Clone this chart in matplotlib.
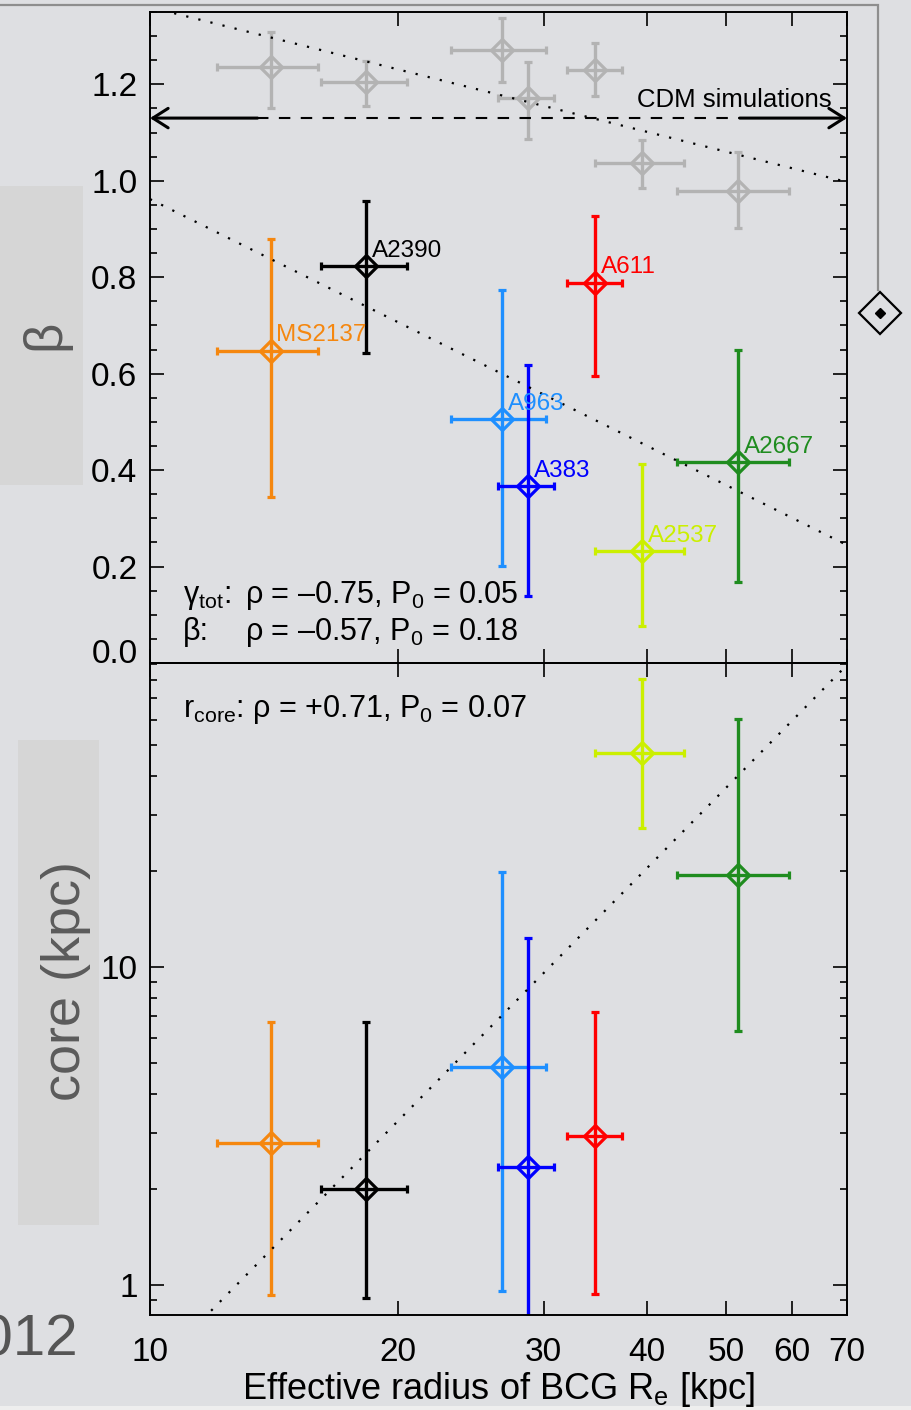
import numpy as np
import matplotlib
matplotlib.use('Agg')
import matplotlib.pyplot as plt
from matplotlib.ticker import FixedLocator, NullLocator, FuncFormatter, LogLocator, MultipleLocator, NullFormatter
from matplotlib.patches import Rectangle

plt.rcParams['font.family'] = ['Liberation Sans', 'DejaVu Sans']
plt.rcParams['mathtext.fontset'] = 'custom'
plt.rcParams['mathtext.rm'] = 'Liberation Sans'
plt.rcParams['mathtext.it'] = 'Liberation Sans:italic'
plt.rcParams['mathtext.bf'] = 'Liberation Sans:bold'

# ---------------- data ----------------
clusters = ['MS2137', 'A2390', 'A963', 'A383', 'A611', 'A2537', 'A2667']
colors = ['#f5870f', '#000000', '#1e8fff', '#0000ff', '#ff0000', '#cbef00', '#1f8c1f']
re_kpc = [14.0, 18.3, 26.7, 28.7, 34.6, 39.5, 51.6]
re_lo = [12.06, 16.1, 23.2, 26.4, 32.0, 34.6, 43.5]
re_hi = [15.98, 20.5, 30.2, 30.9, 37.3, 44.4, 59.5]
gamma_tot = [1.236, 1.205, 1.272, 1.171, 1.230, 1.037, 0.979]
gamma_lo = [1.151, 1.155, 1.205, 1.087, 1.175, 0.985, 0.903]
gamma_hi = [1.309, 1.248, 1.338, 1.246, 1.286, 1.085, 1.060]
beta = [0.648, 0.823, 0.505, 0.367, 0.789, 0.233, 0.416]
beta_lo = [0.344, 0.643, 0.201, 0.139, 0.595, 0.076, 0.167]
beta_hi = [0.880, 0.958, 0.773, 0.619, 0.926, 0.412, 0.649]
rcore = [2.80, 2.00, 4.85, 2.35, 2.94, 47.1, 19.5]
rcore_lo = [0.93, 0.91, 0.96, 0.5, 0.94, 27.4, 6.29]
rcore_hi = [6.71, 6.71, 19.9, 12.3, 7.22, 80.5, 60.4]
gamma_fit = [1.360, -0.429]   # value at R=10, slope per dex
beta_fit = [0.962, -0.849]
rcore_fit = [-0.276, 2.634]   # log10 value at R=10, slope
cdm_beta = 1.13
xticks = [10, 20, 30, 40, 50, 60, 70]
beta_ticks_step = 0.2

# ---------------- figure ----------------
W, H = 911, 1410
BG = '#dedfe2'
fig = plt.figure(figsize=(W / 100, H / 100), dpi=100, facecolor=BG)

# slide decorations (background)
axbg = fig.add_axes([0, 0, 1, 1], zorder=-5)
axbg.set_xlim(0, W)
axbg.set_ylim(H, 0)
axbg.axis('off')
axbg.add_patch(Rectangle((0, 186), 83, 299, fc='#d6d6d6', ec='none'))
axbg.add_patch(Rectangle((18, 740), 81, 485, fc='#d6d6d6', ec='none'))
axbg.add_patch(Rectangle((0, 1406), W, 4, fc='#eeeeee', ec='none'))
axbg.text(45, 335, 'β', rotation=90, fontsize=38, color='#5b5b5b', ha='center', va='center')
axbg.text(66, 981, 'core (kpc)', rotation=90, fontsize=39, color='#5b5b5b', ha='center', va='center')
axbg.text(78, 1355, '2012', ha='right', va='baseline', fontsize=42, color='#555555')
axbg.plot([0, 878, 878], [5, 5, 290], color='#8e8e8e', lw=1.6, solid_joinstyle='miter', clip_on=False)
axbg.plot([880], [313], marker='D', ms=21.5, mfc='none', mec='k', mew=1.6)
axbg.plot([880], [313], marker='D', ms=5, color='k')

ax1 = fig.add_axes([150 / W, 1 - 663 / H, 697 / W, 651 / H])
ax2 = fig.add_axes([150 / W, 1 - 1315 / H, 697 / W, 652 / H])

for ax in (ax1, ax2):
    ax.set_facecolor('none')
    ax.set_xscale('log')
    ax.set_xlim(10, 70)
    ax.xaxis.set_major_locator(FixedLocator(xticks))
    ax.xaxis.set_minor_locator(NullLocator())
    ax.tick_params(which='both', direction='in', top=True, right=True, width=1.2, labelsize=24)
    ax.tick_params(which='major', length=10)
    ax.tick_params(which='minor', length=5)
    ax.tick_params(axis='y', pad=9)
    ax.tick_params(axis='x', pad=16)
    for s in ax.spines.values():
        s.set_linewidth(1.4)

ekw = dict(fmt='D', ms=11, mfc='none', mew=2.3, elinewidth=2.4, capsize=2.9, capthick=2.5)

# upper panel
for i in range(len(clusters)):
    x = re_kpc[i]
    xe = [[x - re_lo[i]], [re_hi[i] - x]]
    ax1.errorbar([x], [gamma_tot[i]], xerr=xe,
                 yerr=[[gamma_tot[i] - gamma_lo[i]], [gamma_hi[i] - gamma_tot[i]]],
                 mec='#b3b3b3', ecolor='#b3b3b3', **ekw)
for i in range(len(clusters)):
    x = re_kpc[i]
    xe = [[x - re_lo[i]], [re_hi[i] - x]]
    c = colors[i]
    ax1.errorbar([x], [beta[i]], xerr=xe,
                 yerr=[[beta[i] - beta_lo[i]], [beta_hi[i] - beta[i]]],
                 mec=c, ecolor=c, **ekw)
    ax1.annotate(clusters[i], (x, beta[i]), xytext=(4.3, 6.5), textcoords='offset points',
                 color=c, fontsize=17.5, ha='left', va='baseline')

xs = np.logspace(1, np.log10(70), 300)
dot = (0, (1, 4.6))
ax1.plot(xs, gamma_fit[0] + gamma_fit[1] * np.log10(xs / 10), ls=dot, color='k', lw=1.6)
ax1.plot(xs, beta_fit[0] + beta_fit[1] * np.log10(xs / 10), ls=dot, color='k', lw=1.6)

# CDM simulations marker
ax1.plot([13.5, 51.9], [cdm_beta, cdm_beta], ls=(0, (5.5, 5)), lw=1.5, color='k')
aprops = dict(arrowstyle='->,head_length=0.55,head_width=0.35', lw=2.2, color='k',
              mutation_scale=20, shrinkA=0, shrinkB=0)
ax1.annotate('', xy=(10, cdm_beta), xytext=(13.5, cdm_beta), arrowprops=aprops, annotation_clip=False)
ax1.annotate('', xy=(70, cdm_beta), xytext=(51.9, cdm_beta), arrowprops=aprops, annotation_clip=False)
ax1.text(67.1, 1.153, 'CDM simulations', ha='right', va='baseline', fontsize=18.5)

ax1.set_ylim(0, 1.35)
ax1.yaxis.set_major_locator(MultipleLocator(beta_ticks_step))
ax1.yaxis.set_minor_locator(MultipleLocator(0.05))
ax1.yaxis.set_major_formatter(FuncFormatter(lambda v, p: '' if abs(v) < 1e-6 else f'{v:.1f}'))
ax1.tick_params(labelbottom=False)
fig.text(138 / W, 1 - 663 / H, '0.0', ha='right', va='baseline', fontsize=24)

ax1.text(0.0473, 0.0922, r'γ$_{\mathrm{tot}}$:', transform=ax1.transAxes, fontsize=22, va='baseline')
ax1.text(0.1363, 0.0922, r'ρ = –0.75, P$_{\mathrm{0}}$ = 0.05', transform=ax1.transAxes, fontsize=22, va='baseline')
ax1.text(0.0473, 0.0353, r'β:', transform=ax1.transAxes, fontsize=22, va='baseline')
ax1.text(0.1363, 0.0353, r'ρ = –0.57, P$_{\mathrm{0}}$ = 0.18', transform=ax1.transAxes, fontsize=22, va='baseline')

# lower panel
for i in range(len(clusters)):
    x = re_kpc[i]
    xe = [[x - re_lo[i]], [re_hi[i] - x]]
    c = colors[i]
    ax2.errorbar([x], [rcore[i]], xerr=xe,
                 yerr=[[rcore[i] - rcore_lo[i]], [rcore_hi[i] - rcore[i]]],
                 mec=c, ecolor=c, **ekw)
ax2.set_yscale('log')
ax2.set_ylim(0.805, 90.4)
ax2.plot(xs, 10 ** (rcore_fit[0] + rcore_fit[1] * np.log10(xs / 10)), ls=dot, color='k', lw=1.6)
ax2.yaxis.set_major_locator(LogLocator(base=10))
ax2.yaxis.set_minor_locator(LogLocator(base=10, subs=np.arange(2, 10)))
ax2.yaxis.set_major_formatter(FuncFormatter(lambda v, p: f'{v:g}'))
ax2.yaxis.set_minor_formatter(NullFormatter())
ax2.xaxis.set_major_formatter(FuncFormatter(lambda v, p: f'{v:g}'))
ax2.text(0.0473, 0.9172, r'r$_{\mathrm{core}}$: ρ = +0.71, P$_{\mathrm{0}}$ = 0.07', transform=ax2.transAxes,
         fontsize=22, va='baseline')

fig.text(498 / W, 1 - 1399 / H, r'Effective radius of BCG R$_{\mathrm{e}}$ [kpc]', ha='center',
         va='baseline', fontsize=26)

fig.savefig('out.png', dpi=100, facecolor=BG)
